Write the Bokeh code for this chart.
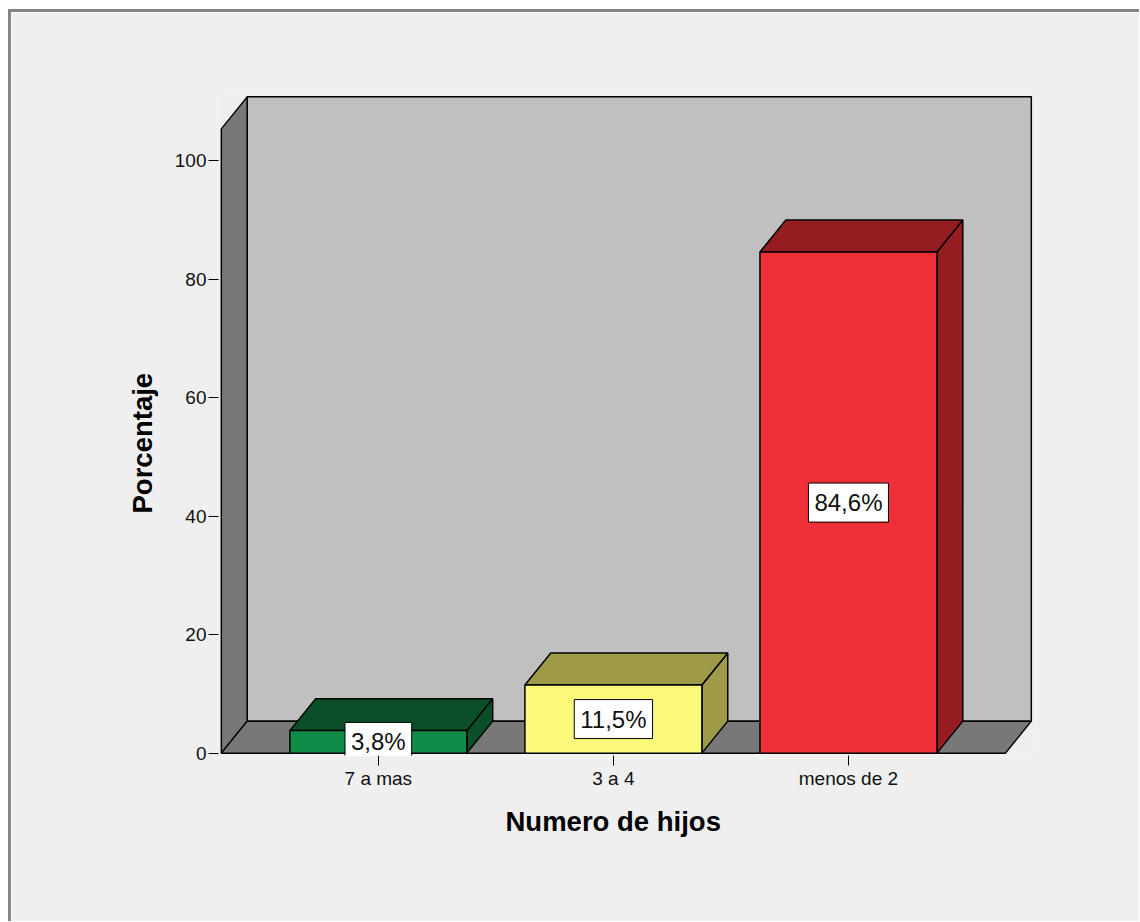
import numpy as np
from bokeh.plotting import figure
from bokeh.models import FixedTicker, Range1d, Label, Title
from bokeh.embed import file_html
from bokeh.resources import INLINE

# ---- data ----
categories = ["7 a mas", "3 a 4", "menos de 2"]
percentages = [3.8, 11.5, 84.6]
front_colors = ["#108C46", "#FCF87A", "#EF3039"]
dark_colors = ["#0B4F29", "#9E9A48", "#951D22"]
y_ticks = [0, 20, 40, 60, 80, 100]
x_title = "Numero de hijos"
y_title = "Porcentaje"

# ---- style / geometry constants ----
FONT = "Liberation Sans"
BAR_W = 0.753          # bar width in category units
DX = 0.11              # depth offset (x, category units)
DY = 5.4               # depth offset (y, value units)
X0 = 0.332             # left end of floor / left wall
X1 = 3.668             # right end of floor (front)
WALL_TOP = 105.4       # wall height (front)

xs = np.arange(1, len(categories) + 1, dtype=float)
vals = np.array(percentages, dtype=float)

p = figure(width=1128, height=909, frame_width=818, frame_height=661,
           x_range=Range1d(0.32, 3.80), y_range=Range1d(-0.4, 111.2),
           output_backend="svg", toolbar_location=None,
           min_border_left=207, min_border_right=103,
           min_border_top=82, min_border_bottom=166)
p.styles = {"border-top": "3px solid #858585", "border-left": "3px solid #858585",
            "margin-left": "8px", "margin-top": "9px"}
p.background_fill_color = "#EFEFEF"
p.border_fill_color = "#EFEFEF"
p.outline_line_color = None
p.grid.visible = False

# ---- walls & floor ----
p.quad(left=[X0 + DX], right=[X1 + DX], bottom=[DY], top=[WALL_TOP + DY],
       fill_color="#C0C0C0", line_color="black", line_width=1.5)
p.patch([X0, X0, X0 + DX, X0 + DX], [0, WALL_TOP, WALL_TOP + DY, DY],
        fill_color="#787878", line_color="black", line_width=1.5)
p.patch([X0, X1, X1 + DX, X0 + DX], [0, 0, DY, DY],
        fill_color="#787878", line_color="black", line_width=1.5)

# ---- bars ----
hw = BAR_W / 2
side_xs, side_ys, top_xs, top_ys = [], [], [], []
for c, v in zip(xs, vals):
    side_xs.append([c + hw, c + hw, c + hw + DX, c + hw + DX])
    side_ys.append([0, v, v + DY, DY])
    top_xs.append([c - hw, c + hw, c + hw + DX, c - hw + DX])
    top_ys.append([v, v, v + DY, v + DY])

p.patches(side_xs, side_ys, fill_color=dark_colors, line_color="black", line_width=1.5)
p.patches(top_xs, top_ys, fill_color=dark_colors, line_color="black", line_width=1.5)
p.quad(left=xs - hw, right=xs + hw, bottom=0, top=vals,
       fill_color=front_colors, line_color="black", line_width=1.5)

# ---- value labels ----
for c, v in zip(xs, vals):
    p.add_layout(Label(x=c, y=v / 2, text=("%.1f" % v).replace(".", ",") + "%",
                       text_align="center", text_baseline="middle",
                       text_font=FONT, text_font_size="24px", text_color="#111111",
                       background_fill_color="white", border_line_color="black",
                       border_line_width=1, padding=6))

# ---- axes ----
p.xaxis.ticker = FixedTicker(ticks=list(xs))
p.xaxis.major_label_overrides = {int(x): c for x, c in zip(xs, categories)}
p.yaxis.ticker = FixedTicker(ticks=y_ticks)
for ax in (p.xaxis, p.yaxis):
    ax.axis_line_color = None
    ax.major_tick_in = 0
    ax.major_tick_out = 10
    ax.major_tick_line_color = "black"
    ax.major_tick_line_width = 1
    ax.minor_tick_line_color = None
    ax.major_label_text_font = FONT
    ax.major_label_text_font_size = "19px"
    ax.major_label_text_color = "#111111"
p.xaxis.major_label_standoff = 2
p.yaxis.major_label_standoff = 2

# ---- axis titles ----
p.add_layout(Title(text=x_title, align="left", offset=287, standoff=24,
                   text_font=FONT, text_font_size="27.5px", text_font_style="bold",
                   text_color="black"), "below")
p.add_layout(Title(text=y_title, align="left", offset=242, standoff=28,
                   text_font=FONT, text_font_size="27.5px", text_font_style="bold",
                   text_color="black"), "left")

open("out.html", "w").write(file_html(p, INLINE))
